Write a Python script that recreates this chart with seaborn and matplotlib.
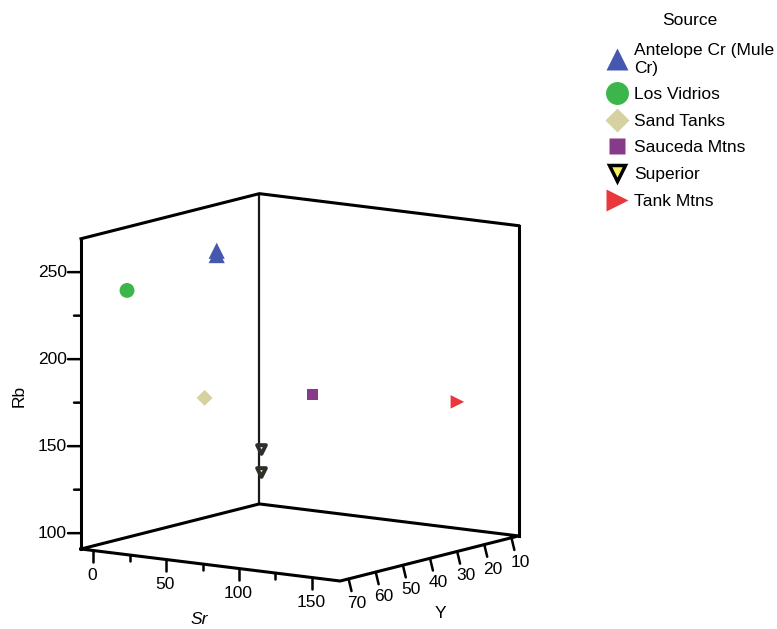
import numpy as np
import matplotlib
matplotlib.use('Agg')
import matplotlib.pyplot as plt
import seaborn as sns
from matplotlib.lines import Line2D

# ---- data ----
sources = ['Antelope Cr (Mule Cr)', 'Los Vidrios', 'Sand Tanks', 'Sauceda Mtns', 'Superior', 'Tank Mtns']
sample_source = ['Antelope Cr (Mule Cr)', 'Antelope Cr (Mule Cr)', 'Los Vidrios', 'Sand Tanks',
                 'Sauceda Mtns', 'Superior', 'Superior', 'Tank Mtns']
sr = [23, 23, 8, 24, 61, 16, 16, 151]
yv = [40, 40, 65, 45, 25, 20, 20, 20]
rb = [252.5, 250, 238, 170, 168, 130, 117, 171]

sr_ticks = [0, 50, 100, 150]
sr_minor = [25, 75, 125]
y_ticks = [70, 60, 50, 40, 30, 20, 10]
rb_ticks = [100, 150, 200, 250]
rb_minor = [125, 175, 225]
sr_lim = (-8.5, 169.5)
y_lim = (7.4, 73.1)
rb_lim = (90.9, 269.2)

# ---- styles ----
colors = dict(zip(sources, ['#4557AE', '#3CB54A', '#D6D1A0', '#883A8A', '#F4EE62', '#E8383D']))
markers = dict(zip(sources, ['^', 'o', 'D', 's', 'v', '>']))
sizes = dict(zip(sources, [135, 115, 66, 58, 40, 95]))
leg_ms = dict(zip(sources, [15.5, 16.5, 12.5, 11.5, 11.5, 16]))

sns.set_theme(style='white')
plt.rcParams['font.family'] = ['Liberation Sans', 'DejaVu Sans']
plt.rcParams['font.size'] = 12.5
plt.rcParams['text.color'] = 'black'

W, H = 777, 629
fig = plt.figure(figsize=(W / 100, H / 100), dpi=100)
ax = fig.add_axes([0, 0, 1, 1], projection='3d', proj_type='ortho', computed_zorder=False)
ax.view_init(elev=10.18, azim=34.96)
aspect = (311, 316, 315)
zoom = 1.0
ax.set_box_aspect(aspect, zoom=zoom)
ax.set_xlim(*y_lim)
ax.set_ylim(*sr_lim)
ax.set_zlim(*rb_lim)
ax.set_axis_off()

y0, y1 = y_lim
s0, s1 = sr_lim
r0, r1 = rb_lim
edge = dict(color='black', lw=2.2, solid_capstyle='projecting', zorder=1)
# back walls and floor
ax.plot([y1, y1], [s0, s0], [r0, r1], **edge)
ax.plot([y0, y0], [s0, s0], [r0, r1], color='#1a1a1a', lw=1.6, zorder=1)
ax.plot([y0, y0], [s1, s1], [r0, r1], **edge)
ax.plot([y1, y0, y0], [s0, s0, s1], [r1, r1, r1], **edge)
ax.plot([y1, y0, y0, y1, y1], [s0, s0, s1, s1, s0], [r0, r0, r0, r0, r0], **edge)

tk = dict(color='black', lw=1.8, zorder=1)
for t in sr_ticks:
    ax.plot([y1, y1], [t, t], [r0, r0 - 6.8], **tk)
for t in sr_minor:
    ax.plot([y1, y1], [t, t], [r0, r0 - 3.5], **tk)
for t in y_ticks:
    ax.plot([t, t], [s1, s1 + 2], [r0, r0 - 6.8], **tk)
for t in rb_ticks:
    ax.plot([y1, y1 + 1.57], [s0, s0 - 6.0], [t, t], **tk)
for t in rb_minor:
    ax.plot([y1, y1 + 0.85], [s0, s0 - 3.2], [t, t], **tk)

# points
for src in sources:
    idx = [i for i, s in enumerate(sample_source) if s == src]
    xs = [yv[i] for i in idx]
    ys = [sr[i] for i in idx]
    zs = [rb[i] for i in idx]
    if src == 'Superior':
        ax.scatter(xs, ys, zs, marker=markers[src], s=sizes[src], c=colors[src],
                   edgecolors='#2e2e2e', linewidths=2.8, depthshade=False, zorder=3)
    else:
        ax.scatter(xs, ys, zs, marker=markers[src], s=sizes[src], c=colors[src],
                   edgecolors='none', depthshade=False, zorder=3)

# fit the box to the canvas
def to_px(p):
    v = ax.M @ np.array([p[0], p[1], p[2], 1.0])
    return ax.transData.transform((v[0] / v[3], v[1] / v[3]))

A = (y1, s0, r0)
B = (y0, s1, r1)
ta = np.array([81.0, H - 549.0])
tb = np.array([518.0, H - 225.0])
pos = [0.0, 0.0, 1.0, 1.0]
for _ in range(3):
    fig.canvas.draw()
    pa, pb = to_px(A), to_px(B)
    zoom *= np.linalg.norm(tb - ta) / np.linalg.norm(pb - pa)
    ax.set_box_aspect(aspect, zoom=zoom)
    fig.canvas.draw()
    d = ta - to_px(A)
    pos[0] += d[0] / W
    pos[1] += d[1] / H
    ax.set_position(pos)
fig.canvas.draw()

# tick labels, placed in pixels next to the projected tick positions
def label_at(p, dx, dy, text, ha, va):
    q = to_px(p)
    fig.text((q[0] + dx) / W, (q[1] + dy) / H, text, ha=ha, va=va)

for t in sr_ticks:
    label_at((y1, t, r0), -1, -17, str(t), 'center', 'top')
for t in y_ticks:
    label_at((t, s1, r0), 8.5, -17, str(t), 'center', 'top')
for t in rb_ticks:
    label_at((y1, s0, t), -14, 0, str(t), 'right', 'center')

# axis titles
fig.text(19 / W, 1 - 396 / H, 'Rb', rotation=90, ha='center', va='center')
fig.text(199 / W, 1 - 620 / H, 'Sr', ha='center', va='center', style='italic')
fig.text(440 / W, 1 - 614 / H, 'Y', ha='center', va='center')

# legend
handles = []
for src in sources:
    if src == 'Superior':
        h = Line2D([], [], linestyle='none', marker=markers[src], markersize=leg_ms[src],
                   markerfacecolor=colors[src], markeredgecolor='black', markeredgewidth=2.5)
    else:
        h = Line2D([], [], linestyle='none', marker=markers[src], markersize=leg_ms[src],
                   markerfacecolor=colors[src], markeredgecolor='none')
    handles.append(h)
labels = ['Antelope Cr (Mule\nCr)'] + sources[1:]
leg = fig.legend(handles, labels, title='Source', loc='upper left', bbox_to_anchor=(598 / W, 1 - 6 / H),
                 frameon=False, fontsize=12.5, title_fontsize=12.5, handlelength=1.4,
                 handletextpad=0.3, labelspacing=0.66, borderaxespad=0)
leg.get_title().set_color('black')
for txt in leg.get_texts():
    txt.set_color('black')
leg._legend_box.sep = 11

fig.savefig('out.png', dpi=100)
